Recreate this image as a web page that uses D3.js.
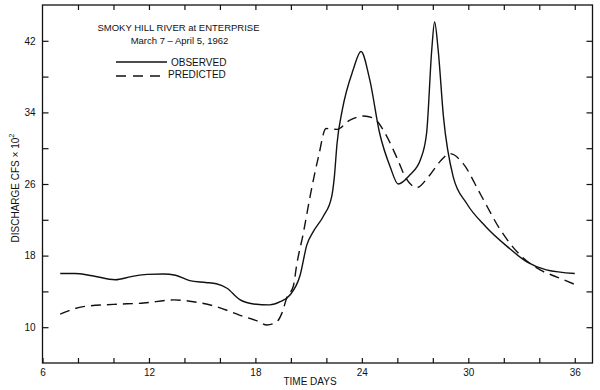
<!DOCTYPE html>
<html>
<head>
<meta charset="utf-8">
<script src="https://cdn.jsdelivr.net/npm/d3@7"></script>
<style>
  body { margin: 0; background: #fff; }
  text { font-family: "Liberation Sans", Arial, sans-serif; fill: #111; }
</style>
</head>
<body>
<script>
(function() {

// observed discharge (cfs x 100)
var obsDays = [7.0, 7.8, 8.8, 10.1, 11.0, 11.9, 12.8, 13.5, 14.3, 15.2, 15.8, 16.4,
               17.1, 17.9, 18.8, 19.4, 19.95, 20.52, 20.9, 21.27, 21.83, 22.3, 22.45,
               22.6, 22.9, 23.5, 23.95, 24.45, 25.0, 25.6, 26.05, 26.7, 27.3, 27.65,
               27.94, 28.1, 28.3, 28.6, 29.15, 29.9, 31.0, 32.2, 33.3, 34.4, 36.0];
var obsVals = [16.0, 16.0, 15.75, 15.3, 15.65, 15.9, 15.95, 15.8, 15.2, 15.0, 14.85, 14.35,
               13.1, 12.6, 12.5, 12.85, 13.6, 15.8, 19.2, 20.7, 22.4, 24.6, 26.8,
               30.5, 34.3, 38.7, 40.8, 37.6, 31.7, 27.9, 26.0, 27.0, 28.7, 31.7,
               41.0, 44.1, 41.0, 33.5, 26.8, 23.85, 21.2, 19.0, 17.3, 16.4, 16.0];

// predicted discharge
var predDays = [7.0, 8.3, 10.0, 11.7, 13.4, 14.5, 15.8, 17.1, 18.1, 18.65, 19.2, 19.5,
                19.77, 20.14, 20.33, 20.7, 21.08, 21.55, 21.98, 22.6, 23.3, 24.1, 24.7,
                25.3, 25.96, 26.5, 27.1, 27.75, 28.4, 28.97, 29.7, 30.7, 31.8, 32.9,
                34.05, 35.0, 36.1];
var predVals = [11.45, 12.3, 12.55, 12.7, 13.05, 12.85, 12.3, 11.35, 10.7, 10.25, 10.6, 11.6,
                13.3, 14.6, 17.0, 20.5, 24.6, 29.0, 32.2, 32.1, 33.1, 33.6, 33.3,
                31.7, 29.0, 26.6, 25.6, 26.8, 28.5, 29.4, 28.3, 24.8, 20.9, 18.1,
                16.4, 15.6, 14.7];

var xTicks = [6, 8, 10, 12, 14, 16, 18, 20, 22, 24, 26, 28, 30, 32, 34, 36],
    xLabels = [6, 12, 18, 24, 30, 36],
    yTicks = [10, 14, 18, 22, 26, 30, 34, 38, 42],
    yLabels = [10, 18, 26, 34, 42];

var width = 600, height = 390,
    left = 42.5, right = 592.5, top = 5, bottom = 363,
    ink = "#111";

var x = d3.scaleLinear().domain([6, 37]).range([left, right]),
    y = d3.scaleLinear().domain([6, 46]).range([bottom, top]);

var svg = d3.select("body").append("svg")
  .attr("width", width)
  .attr("height", height);

function fmt(list) {
  return function(d) { return list.indexOf(d) >= 0 ? d : ""; };
}

// axes, all ticks pointing inward
function styleAxis(g) {
  g.select(".domain").remove();
  g.selectAll("line").attr("stroke", ink).attr("stroke-width", 1.2);
  g.selectAll("text").attr("font-size", 10).attr("fill", ink)
    .attr("font-family", "'Liberation Sans', Arial, sans-serif");
}

svg.append("g")
  .attr("transform", "translate(0," + bottom + ")")
  .call(d3.axisBottom(x).tickValues(xTicks).tickSize(-5).tickPadding(6).tickFormat(fmt(xLabels)))
  .call(styleAxis);

svg.append("g")
  .attr("transform", "translate(0," + top + ")")
  .call(d3.axisTop(x).tickValues(xTicks.slice(1)).tickSize(-5).tickFormat(""))
  .call(styleAxis);

svg.append("g")
  .attr("transform", "translate(" + left + ",0)")
  .call(d3.axisLeft(y).tickValues(yTicks).tickSize(-6).tickPadding(7).tickFormat(fmt(yLabels)))
  .call(styleAxis);

svg.append("g")
  .attr("transform", "translate(" + right + ",0)")
  .call(d3.axisRight(y).tickValues(yTicks).tickSize(-6).tickFormat(""))
  .call(styleAxis);

svg.append("rect")
  .attr("x", left).attr("y", top)
  .attr("width", right - left).attr("height", bottom - top)
  .attr("fill", "none").attr("stroke", ink).attr("stroke-width", 1.3);

// curves
var line = d3.line()
  .x(function(d) { return x(d[0]); })
  .y(function(d) { return y(d[1]); })
  .curve(d3.curveMonotoneX);

svg.append("path")
  .datum(d3.zip(obsDays, obsVals))
  .attr("d", line)
  .attr("fill", "none").attr("stroke", ink).attr("stroke-width", 1.4);

svg.append("path")
  .datum(d3.zip(predDays, predVals))
  .attr("d", line)
  .attr("fill", "none").attr("stroke", ink).attr("stroke-width", 1.4)
  .attr("stroke-dasharray", "10,6");

// titles
svg.append("text").attr("x", 178.5).attr("y", 31)
  .attr("text-anchor", "middle").attr("font-size", 9.5)
  .text("SMOKY HILL RIVER at ENTERPRISE");
svg.append("text").attr("x", 179.5).attr("y", 44)
  .attr("text-anchor", "middle").attr("font-size", 9.5)
  .text("March 7 \u2013 April 5, 1962");

// legend
svg.append("line").attr("x1", 116).attr("x2", 167).attr("y1", 62).attr("y2", 62)
  .attr("stroke", ink).attr("stroke-width", 1.4);
svg.append("text").attr("x", 171).attr("y", 66).attr("font-size", 10).text("OBSERVED");
svg.append("line").attr("x1", 116).attr("x2", 166).attr("y1", 76).attr("y2", 76)
  .attr("stroke", ink).attr("stroke-width", 1.4).attr("stroke-dasharray", "10,7");
svg.append("text").attr("x", 168).attr("y", 78).attr("font-size", 10).text("PREDICTED");

// axis titles
svg.append("text").attr("x", 310).attr("y", 385)
  .attr("text-anchor", "middle").attr("font-size", 10)
  .text("TIME DAYS");

var yt = svg.append("text")
  .attr("transform", "translate(18.5,188) rotate(-90)")
  .attr("text-anchor", "middle").attr("font-size", 10);
yt.append("tspan").text("DISCHARGE CFS \u00d7 10");
yt.append("tspan").attr("dy", -5).attr("font-size", 7.5).text("2");

})();
</script>
</body>
</html>
